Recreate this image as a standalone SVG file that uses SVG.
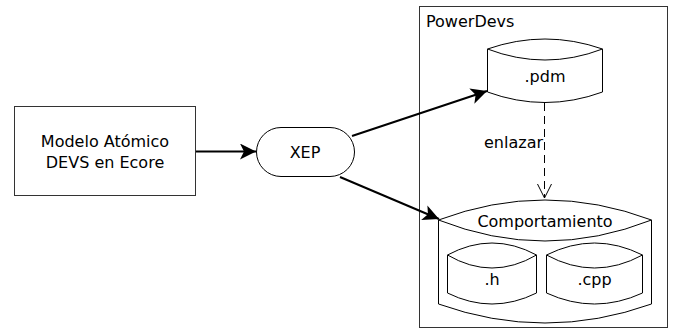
<svg xmlns="http://www.w3.org/2000/svg" width="675" height="331" viewBox="0 0 675 331">
<defs>
<marker id="arr" viewBox="0 0 16 16" refX="16" refY="8" markerWidth="16" markerHeight="16" markerUnits="userSpaceOnUse" orient="auto">
<path d="M0,0 L16,8 L0,16 L4,8 Z" fill="#000"/>
</marker>
<marker id="open" viewBox="0 0 16 16" refX="15" refY="8" markerWidth="16" markerHeight="16" markerUnits="userSpaceOnUse" orient="auto">
<path d="M1,1 L15,8 L1,15" fill="none" stroke="#000" stroke-width="1"/>
</marker>
</defs>
<style>
text{font-family:"DejaVu Sans","Liberation Sans",sans-serif;font-size:16px;fill:#000}
.box{fill:#fff;stroke:#333;stroke-width:1}
.shape{fill:#fff;stroke:#000;stroke-width:1}
.edge{fill:none;stroke:#000;stroke-width:2}
.dash{fill:none;stroke:#000;stroke-width:1;stroke-dasharray:8,5}
.c{text-anchor:middle}
</style>
<rect width="675" height="331" fill="#fff"/>
<g id="powerdevs">
<rect class="box" x="419.5" y="6.5" width="248" height="321"/>
<text x="426" y="27">PowerDevs</text>
</g>
<g id="modelo">
<rect class="box" x="14.5" y="106.5" width="181" height="89"/>
<text class="c" x="105" y="147">Modelo Atómico</text>
<text class="c" x="105" y="168">DEVS en Ecore</text>
</g>
<g id="xep">
<rect class="shape" x="256.5" y="127.5" width="98" height="49" rx="24.5" ry="24.5"/>
<text class="c" x="305" y="158">XEP</text>
</g>
<g id="pdm">
<path class="shape" d="M487.5,49 Q545,29 602.5,49 L602.5,92 Q545,113 487.5,92 Z"/>
<path class="shape" fill="none" d="M487.5,49 Q545,71 602.5,49"/>
<text class="c" x="545" y="82">.pdm</text>
</g>
<g id="comportamiento">
<path class="shape" d="M438.5,220 Q545,180 651.5,220 L651.5,304 Q545,342 438.5,304 Z"/>
<path class="shape" fill="none" d="M438.5,220 Q545,262 651.5,220"/>
<text class="c" x="545" y="227">Comportamiento</text>
</g>
<g id="h">
<path class="shape" d="M447.5,255 Q492,231 536.5,255 L536.5,293 Q492,315 447.5,293 Z"/>
<path class="shape" fill="none" d="M447.5,255 Q492,281 536.5,255"/>
<text class="c" x="492" y="285">.h</text>
</g>
<g id="cpp">
<path class="shape" d="M546.5,255 Q594.5,231 642.5,255 L642.5,293 Q594.5,315 546.5,293 Z"/>
<path class="shape" fill="none" d="M546.5,255 Q594.5,281 642.5,255"/>
<text class="c" x="594.5" y="285">.cpp</text>
</g>
<g id="connectors">
<line class="edge" x1="196" y1="151.5" x2="256" y2="151.5" marker-end="url(#arr)"/>
<line class="edge" x1="352" y1="136" x2="487" y2="91" marker-end="url(#arr)"/>
<line class="edge" x1="340" y1="177" x2="439" y2="219" marker-end="url(#arr)"/>
<line class="dash" x1="544.5" y1="103" x2="544.5" y2="198" marker-end="url(#open)"/>
<text x="484" y="148">enlazar</text>
</g>
</svg>
